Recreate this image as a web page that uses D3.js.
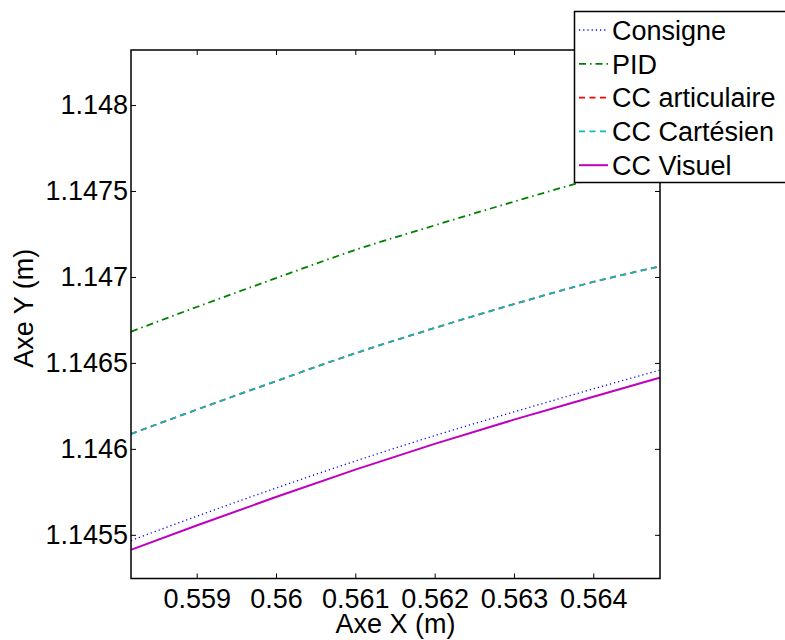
<!DOCTYPE html>
<html>
<head>
<meta charset="utf-8">
<script src="https://cdn.jsdelivr.net/npm/d3@7"></script>
<style>
  html, body { margin: 0; padding: 0; background: #fff; }
  svg { display: block; }
  text { font-family: "Liberation Sans", Arial, sans-serif; fill: #000; }
</style>
</head>
<body>
<svg id="chart" width="785" height="640"></svg>
<script>
// ---- Data ----
const xValues = [0.558172, 0.559, 0.560, 0.561, 0.562, 0.563, 0.564, 0.564841];
const consigne = [1.145467, 1.145608, 1.145772, 1.145929, 1.146077, 1.146215, 1.146349, 1.146458];
const pid = [1.146682, 1.146825, 1.146993, 1.147157, 1.147300, 1.147438, 1.147572, 1.147681];
const ccArticulaire = [1.146087, 1.146228, 1.146394, 1.146556, 1.146703, 1.146842, 1.146971, 1.147061];
const ccCartesien = [1.146087, 1.146228, 1.146394, 1.146556, 1.146703, 1.146842, 1.146971, 1.147061];
const ccVisuel = [1.145413, 1.145554, 1.145720, 1.145879, 1.146029, 1.146170, 1.146303, 1.146414];
const xTicks = [0.559, 0.560, 0.561, 0.562, 0.563, 0.564];
const xTickLabels = ["0.559", "0.56", "0.561", "0.562", "0.563", "0.564"];
const yTicks = [1.1455, 1.146, 1.1465, 1.147, 1.1475, 1.148];
const yTickLabels = ["1.1455", "1.146", "1.1465", "1.147", "1.1475", "1.148"];
const seriesNames = ["Consigne", "PID", "CC articulaire", "CC Cartésien", "CC Visuel"];
const xDomain = [0.558172, 0.564841];
const yDomain = [1.145246, 1.14832];

// ---- Layout ----
const svg = d3.select("#chart");
const L = 131, R = 660, T = 50, B = 578.5;
const x = d3.scaleLinear().domain(xDomain).range([L, R]);
const y = d3.scaleLinear().domain(yDomain).range([B, T]);

const styles = [
  { color: "#0000ff", dash: "1.2,3", width: 1.3 },
  { color: "#008000", dash: "7,4,1.5,4", width: 1.8 },
  { color: "#ff0000", dash: "6,4.5", width: 1.8 },
  { color: "#00bfbf", dash: "6,4.5", width: 1.8 },
  { color: "#bf00bf", dash: null, width: 2 }
];
const series = [consigne, pid, ccArticulaire, ccCartesien, ccVisuel];

svg.append("defs").append("clipPath").attr("id", "clip")
  .append("rect").attr("x", L).attr("y", T).attr("width", R - L).attr("height", B - T);

// lines
const line = d3.line().x((d, i) => x(xValues[i])).y(d => y(d)).curve(d3.curveMonotoneX);
const gLines = svg.append("g").attr("clip-path", "url(#clip)");
series.forEach((s, i) => {
  gLines.append("path")
    .datum(s)
    .attr("d", line)
    .attr("fill", "none")
    .attr("stroke", styles[i].color)
    .attr("stroke-width", styles[i].width)
    .attr("stroke-dasharray", styles[i].dash);
});

// axes (MATLAB box style, inward ticks)
const fs = 27;
const axB = svg.append("g").attr("transform", `translate(0,${B})`)
  .call(d3.axisBottom(x).tickValues(xTicks).tickFormat((d, i) => xTickLabels[i]).tickSizeInner(-5).tickSizeOuter(0).tickPadding(10));
const axT = svg.append("g").attr("transform", `translate(0,${T})`)
  .call(d3.axisTop(x).tickValues(xTicks).tickFormat("").tickSizeInner(-5).tickSizeOuter(0));
const axL = svg.append("g").attr("transform", `translate(${L},0)`)
  .call(d3.axisLeft(y).tickValues(yTicks).tickFormat((d, i) => yTickLabels[i]).tickSizeInner(-5).tickSizeOuter(0).tickPadding(3));
const axR = svg.append("g").attr("transform", `translate(${R},0)`)
  .call(d3.axisRight(y).tickValues(yTicks).tickFormat("").tickSizeInner(-5).tickSizeOuter(0));

[axB, axT, axL, axR].forEach(a => {
  a.select(".domain").remove();
  a.selectAll(".tick line").attr("stroke", "#000").attr("stroke-width", 1);
  a.selectAll("text").attr("font-size", fs).attr("font-family", "Liberation Sans, Arial, sans-serif").attr("fill", "#000");
});
axB.selectAll("text").attr("dy", "0.71em");

// box
svg.append("rect").attr("x", L).attr("y", T).attr("width", R - L).attr("height", B - T)
  .attr("fill", "none").attr("stroke", "#000").attr("stroke-width", 1.5);

// axis titles
svg.append("text").attr("x", (L + R) / 2).attr("y", 633).attr("text-anchor", "middle")
  .attr("font-size", fs).text("Axe X (m)");
svg.append("text").attr("transform", `translate(33,${(T + B) / 2 - 6}) rotate(-90)`)
  .attr("text-anchor", "middle").attr("font-size", fs).text("Axe Y (m)");

// legend
const lg = svg.append("g");
lg.append("rect").attr("x", 574.5).attr("y", 11.5).attr("width", 240).attr("height", 171)
  .attr("fill", "#fff").attr("stroke", "#000").attr("stroke-width", 1.5);
seriesNames.forEach((name, i) => {
  const cy = 30 + i * 33.8;
  lg.append("line").attr("x1", 579).attr("x2", 608).attr("y1", cy).attr("y2", cy)
    .attr("stroke", styles[i].color).attr("stroke-width", styles[i].width)
    .attr("stroke-dasharray", styles[i].dash);
  lg.append("text").attr("x", 612).attr("y", cy).attr("dy", "0.36em")
    .attr("font-size", fs).text(name);
});
</script>
</body>
</html>
